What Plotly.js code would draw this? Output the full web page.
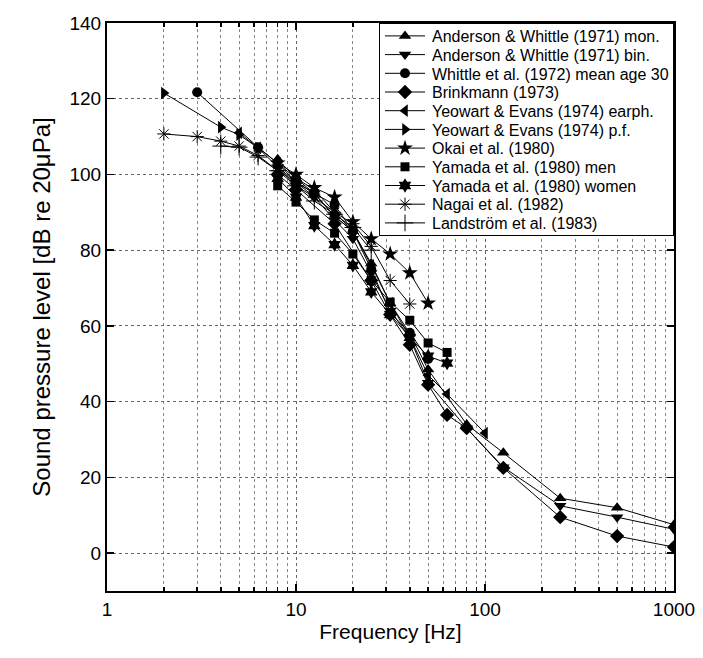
<!DOCTYPE html>
<html>
<head>
<meta charset="utf-8">
<script src="https://cdn.plot.ly/plotly-3.0.1.min.js"></script>
<style>html,body{margin:0;padding:0;background:#fff;}#chart{width:703px;height:658px;}</style>
</head>
<body>
<div id="chart"></div>
<script>
// ---- data ----
const seriesNames = [
  "Anderson & Whittle (1971) mon.",
  "Anderson & Whittle (1971) bin.",
  "Whittle et al. (1972) mean age 30",
  "Brinkmann (1973)",
  "Yeowart & Evans (1974) earph.",
  "Yeowart & Evans (1974) p.f.",
  "Okai et al. (1980)",
  "Yamada et al. (1980) men",
  "Yamada et al. (1980) women",
  "Nagai et al. (1982)",
  "Landström et al. (1983)"
];

const andersonMonF = [8, 10, 12.5, 16, 20, 25, 31.5, 40, 50, 80, 125, 250, 500, 1000];
const andersonMonV = [104, 99, 96, 90, 85, 76.5, 66, 58, 48.5, 34, 26.5, 14.5, 12, 7.5];

const andersonBinF = [8, 10, 12.5, 16, 20, 25, 31.5, 40, 50, 80, 125, 250, 500, 1000];
const andersonBinV = [102, 97, 94, 88, 83, 74, 64, 57, 45, 33, 22.7, 12.5, 9.5, 6.3];

const whittleF = [3, 6.3, 10, 12.5, 16, 20, 25, 31.5, 40, 50];
const whittleV = [121.7, 107.2, 99, 95, 92, 85, 75, 63.5, 58.2, 51.3];

const brinkmannF = [8, 10, 16, 25, 31.5, 40, 50, 63, 80, 125, 250, 500, 1000];
const brinkmannV = [100, 96, 87, 72, 63, 55, 44.5, 36.5, 33, 22.5, 9.5, 4.5, 1.6];

const yeowartEarF = [5, 6.3, 8, 10, 12.5, 16, 20, 25, 31.5, 40, 50, 63, 100];
const yeowartEarV = [111, 107, 103, 98, 95, 89, 85, 76, 66, 57, 47, 42, 31.7];

const yeowartPfF = [2, 4, 5, 6.3, 8, 10, 12.5, 16, 20];
const yeowartPfV = [121.5, 112.5, 110.5, 107, 102, 98, 95, 89, 85];

const okaiF = [8, 10, 12.5, 16, 20, 25, 31.5, 40, 50];
const okaiV = [103, 100, 96.5, 94, 87.5, 83, 79, 74, 66];

const yamadaMenF = [8, 10, 12.5, 16, 20, 25, 31.5, 40, 50, 63];
const yamadaMenV = [97, 92.7, 88, 84.5, 79, 72, 66.3, 61.5, 55.5, 53];

const yamadaWomenF = [8, 10, 12.5, 16, 20, 25, 31.5, 40, 50, 63];
const yamadaWomenV = [99, 94, 86.5, 81.5, 76, 69, 63, 57, 52, 50.2];

const nagaiF = [2, 3, 4, 5, 6.3, 8, 10, 12.5, 16, 20, 25, 31.5, 40];
const nagaiV = [110.7, 110, 108.8, 107.5, 105, 101, 98, 94, 90, 87, 81, 72, 65.8];

const landstromF = [4, 5, 6.3, 8, 10, 12.5, 16, 20, 25];
const landstromV = [107.5, 107.2, 104.6, 101, 97, 93, 89.5, 86, 80];

const xTickVals = [1, 10, 100, 1000];
const xTickText = ["1", "10", "100", "1000"];
const yTickVals = [0, 20, 40, 60, 80, 100, 120, 140];

// ---- styling ----
const seriesData = [
  [andersonMonF, andersonMonV, "triangle-up", 11],
  [andersonBinF, andersonBinV, "triangle-down", 11],
  [whittleF, whittleV, "circle", 10],
  [brinkmannF, brinkmannV, "diamond", 11],
  [yeowartEarF, yeowartEarV, "triangle-left", 11],
  [yeowartPfF, yeowartPfV, "triangle-right", 11],
  [okaiF, okaiV, "star", 12],
  [yamadaMenF, yamadaMenV, "square", 9],
  [yamadaWomenF, yamadaWomenV, "hexagram", 11],
  [nagaiF, nagaiV, "asterisk-open", 11],
  [landstromF, landstromV, "cross-thin-open", 12]
];

const traces = seriesData.map((s, i) => {
  const open = s[2].endsWith("open");
  return {
    x: s[0], y: s[1], name: seriesNames[i],
    type: "scatter", mode: "lines+markers",
    line: {color: "#000", width: 1},
    marker: {
      symbol: s[2], size: s[3], color: "#000",
      line: {color: "#000", width: open ? 1 : 0}
    }
  };
});

const font = "Liberation Sans, Arial, sans-serif";
const axisCommon = {
  showline: true, linecolor: "#000", linewidth: 2, mirror: "ticks",
  ticks: "inside", ticklen: 7, tickcolor: "#000", tickwidth: 1.5,
  showgrid: true, gridcolor: "#666", griddash: "dot", gridwidth: 1,
  zeroline: false,
  tickfont: {family: font, size: 19, color: "#000"}
};

const minorX = [];
[1, 10, 100].forEach(d => { for (let k = 2; k <= 9; k++) minorX.push(k * d); });

const layout = {
  width: 703, height: 658,
  margin: {l: 107, r: 29, t: 23, b: 67},
  paper_bgcolor: "#fff", plot_bgcolor: "#fff",
  showlegend: true,
  legend: {
    x: 1, xanchor: "right", y: 1, yanchor: "top",
    bgcolor: "#fff", bordercolor: "#000", borderwidth: 1,
    font: {family: font, size: 16, color: "#000"},
    tracegroupgap: 0
  },
  xaxis: Object.assign({}, axisCommon, {
    type: "log", range: [0, 3],
    tickmode: "array", tickvals: xTickVals, ticktext: xTickText,
    minor: {tickmode: "array", tickvals: minorX, ticks: "inside", ticklen: 4,
            tickcolor: "#000", showgrid: true, gridcolor: "#888", griddash: "dot", gridwidth: 1},
    title: {text: "Frequency [Hz]", font: {family: font, size: 21, color: "#000"}, standoff: 6}
  }),
  yaxis: Object.assign({}, axisCommon, {
    range: [-10, 140],
    tickmode: "array", tickvals: yTickVals,
    title: {text: "Sound pressure level [dB re 20μPa]", font: {family: font, size: 24, color: "#000"}, standoff: 12}
  })
};

function parseT(el) {
  const t = el.getAttribute("transform") || "";
  const m = /translate\(\s*([-\d.e]+)[ ,]*([-\d.e]*)\s*\)/.exec(t);
  return m ? [parseFloat(m[1]), parseFloat(m[2] || 0)] : [0, 0];
}

Plotly.newPlot("chart", traces, layout, {staticPlot: true, displayModeBar: false}).then(gd => {
  // tighten legend row spacing and widen the box to match the reference
  const leg = gd.querySelector(".legend");
  if (!leg) return;
  const items = Array.from(leg.querySelectorAll(".traces"));
  if (items.length < 2) return;
  const ys = items.map(it => {
    const g = parseT(it.parentNode)[1];
    return [parseT(it)[0], parseT(it)[1] + g];
  });
  const step = 18.7;
  const up = 5;
  const W = 294;
  const sb = leg.querySelector(".scrollbox");
  if (sb) sb.removeAttribute("clip-path");
  leg.querySelectorAll(".groups").forEach(g => g.setAttribute("transform", "translate(0,0)"));
  items.forEach((it, i) => {
    it.setAttribute("transform", "translate(" + ys[i][0] + "," + (ys[0][1] - up + i * step) + ")");
    const txt = it.querySelector("text.legendtext");
    if (txt) txt.setAttribute("x", parseFloat(txt.getAttribute("x")) + 12);
    it.querySelectorAll(".legendlines path").forEach(p => p.setAttribute("d", "M5,0h40"));
    it.querySelectorAll(".legendpoints path").forEach(p => p.setAttribute("transform", "translate(25,0)"));
  });
  const newH = (ys[0][1] - up + (items.length - 1) * step) + 12;
  const bg = leg.querySelector("rect.bg");
  const lt = parseT(leg);
  if (bg) {
    const oldW = parseFloat(bg.getAttribute("width"));
    bg.setAttribute("height", newH);
    bg.setAttribute("width", W);
    leg.setAttribute("transform", "translate(" + (lt[0] + oldW - W) + "," + lt[1] + ")");
  }
});
</script>
</body>
</html>
